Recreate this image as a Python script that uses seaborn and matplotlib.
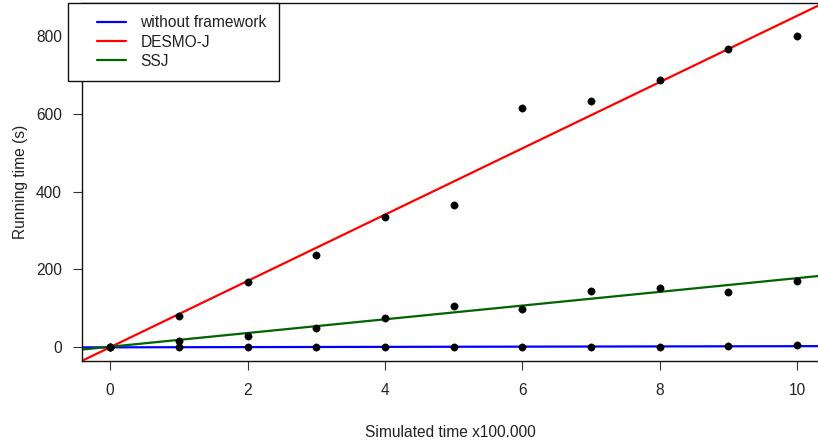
import numpy as np
import pandas as pd
import matplotlib
matplotlib.use("Agg")
import matplotlib.pyplot as plt
import seaborn as sns
from matplotlib.lines import Line2D
from matplotlib.legend_handler import HandlerLine2D

sim_time = [0, 1, 2, 3, 4, 5, 6, 7, 8, 9, 10]
without_framework = [0, 0, 0, 0, 0, 0, 0, 0, 0, 3, 4]
desmo_j = [0, 80, 167, 236, 334, 365, 614, 634, 686, 766, 800]
ssj = [0, 15, 28, 49, 75, 105, 98, 145, 152, 141, 170]

series_names = ["without framework", "DESMO-J", "SSJ"]
series_colors = ["#0000FF", "#FF0000", "#006400"]

df = pd.concat([
    pd.DataFrame({"x": sim_time, "y": vals, "series": name})
    for name, vals in zip(series_names, [without_framework, desmo_j, ssj])
], ignore_index=True)

FS = 11.2
sns.set_style("ticks")
plt.rcParams["font.family"] = ["Liberation Sans", "DejaVu Sans"]
plt.rcParams["font.size"] = FS

fig = plt.figure(figsize=(8.18, 4.41), dpi=100)
ax = fig.add_axes([82/818, 1 - 361/441, 1 - 82/818 + 0.002, (361 - 3)/441])
ax.set_xlim(-0.41, 10.33)
ax.set_ylim(-36, 885)

for name, color in zip(series_names, series_colors):
    sub = df[df["series"] == name]
    sns.regplot(data=sub, x="x", y="y", ax=ax, scatter=False, ci=None,
                truncate=False, color=color, line_kws={"lw": 1.6, "zorder": 2})

sns.scatterplot(data=df, x="x", y="y", ax=ax, color="black", s=28,
                edgecolor="black", linewidth=0.3, zorder=3, legend=False)

ax.set_xlim(-0.41, 10.33)
ax.set_ylim(-36, 885)
ax.set_xticks([0, 2, 4, 6, 8, 10])
ax.set_yticks([0, 200, 400, 600, 800])
ax.tick_params(axis="both", direction="out", length=6.5, width=0.8,
               colors="#333333", labelcolor="#222222", labelsize=FS)
ax.tick_params(axis="x", pad=9)
ax.tick_params(axis="y", pad=8)
for side in ["left", "bottom", "top"]:
    ax.spines[side].set_color("#111111")
    ax.spines[side].set_linewidth(1.0)
ax.spines["right"].set_visible(False)

ax.set_xlabel("Simulated time x100.000", color="#222222", fontsize=FS, labelpad=20)
ax.set_ylabel("Running time (s)", color="#222222", fontsize=FS, labelpad=6)


class OffsetLineHandler(HandlerLine2D):
    def create_artists(self, legend, orig_handle, xdescent, ydescent, width,
                       height, fontsize, trans):
        artists = super().create_artists(legend, orig_handle, xdescent, ydescent,
                                         width, height, fontsize, trans)
        for a in artists:
            xd = np.asarray(a.get_xdata(), dtype=float)
            if len(xd) >= 2:
                a.set_xdata(np.linspace(xd[0] + 0.37 * width, xd[-1], len(xd)))
        return artists


handles = [Line2D([0], [0], color=c, lw=1.6) for c in series_colors]
leg = fig.legend(handles, series_names, loc="upper left",
                 bbox_to_anchor=(68/818, 1 - 3/441), frameon=True, fancybox=False,
                 handlelength=2.95, handletextpad=0.9, borderpad=0.8,
                 labelspacing=0.27, fontsize=FS, borderaxespad=0,
                 handler_map={Line2D: OffsetLineHandler()})
leg.get_frame().set_edgecolor("#111111")
leg.get_frame().set_linewidth(1.0)
leg.get_frame().set_facecolor("white")
leg.get_frame().set_alpha(1)
for t in leg.get_texts():
    t.set_color("#222222")

fig.savefig("out.png", dpi=100)
